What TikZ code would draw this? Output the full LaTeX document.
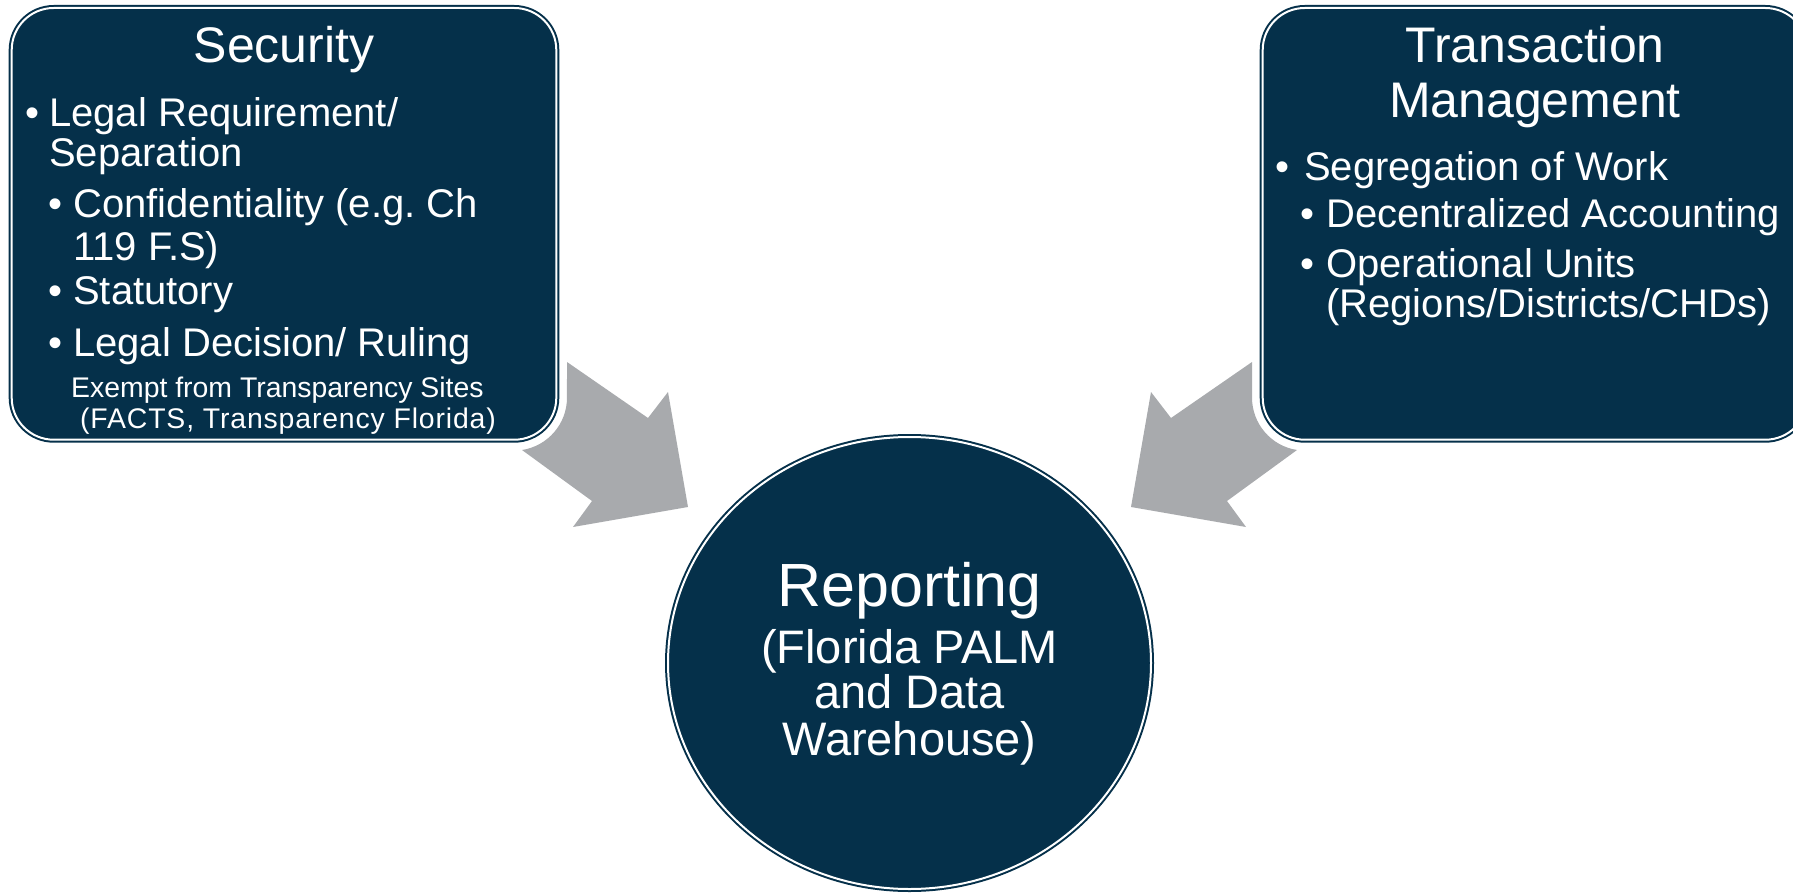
\documentclass[tikz,border=0pt]{standalone}
\usepackage{fontspec}
\setmainfont{Liberation Sans}
\usetikzlibrary{shapes.geometric}
\definecolor{navy}{HTML}{05304A}
\definecolor{arrowgray}{HTML}{A8AAAD}
\frenchspacing
\begin{document}
\begin{tikzpicture}[x=1pt,y=-1pt,
  box/.style={rectangle, rounded corners=42pt, fill=navy, draw=navy, double=white, double distance=2pt, line width=2pt, inner sep=0pt, minimum width=544.6pt, minimum height=431.7pt},
  ring/.style={ellipse, fill=navy, draw=navy, double=white, double distance=2pt, line width=2pt, inner sep=0pt, minimum width=483pt, minimum height=452pt},
  bigarrow/.style={fill=arrowgray},
  head/.style={text=white, inner sep=0pt, anchor=base, font=\fontsize{50}{60}\selectfont},
  item/.style={text=white, inner sep=0pt, anchor=base west, font=\fontsize{40}{48}\selectfont},
  note/.style={text=white, inner sep=0pt, anchor=base west, font=\fontsize{28.4}{34}\selectfont},
  big/.style={text=white, inner sep=0pt, anchor=base, font=\fontsize{61}{72}\selectfont},
  mid/.style={text=white, inner sep=0pt, anchor=base, font=\fontsize{47}{56}\selectfont}]
\useasboundingbox (0,0) rectangle (1793,893);
\clip (0,0) rectangle (1793,893);
% arrows
\fill[bigarrow] (522,450) arc[start angle=81.3, end angle=0, radius=53] -- (567,362) -- (648,418) -- (668,392) -- (688,507) -- (573,527) -- (592,501) -- cycle;
\fill[bigarrow] (1297,450) arc[start angle=98.7, end angle=180, radius=53] -- (1252,362) -- (1171,418) -- (1151,392) -- (1131,507) -- (1246,527) -- (1227,501) -- cycle;
% boxes
\node[box] (secbox) at (284,223.85) {};
\node[box] (trbox) at (1535,223.85) {};
\node[ring] (rep) at (909.5,663) {};
% left box text
\node[head] (sech) at (284,63) {Security};
\node[item] (lb1) at (25,127) {•};
\node[item] (lt1) at (49,127) {Legal Requirement/};
\node[item] (lt1b) at (49,167) {Separation};
\node[item] (lb2) at (48,218) {•};
\node[item] (lt2) at (73,218) {Confidentiality (e.g. Ch};
\node[item] (lt2b) at (73,261) {119 F.S)};
\node[item] (lb3) at (48,305) {•};
\node[item] (lt3) at (73,305) {Statutory};
\node[item] (lb4) at (48,356) {•};
\node[item] (lt4) at (73,356) {Legal Decision/ Ruling};
\node[note] (ln1) at (71,397) {Exempt from Transparency Sites};
\node[note] (ln2) at (80,428) {\addfontfeature{LetterSpace=3}(FACTS, Transparency Florida)};
% right box text
\node[head] (trh1) at (1535,63) {Transaction};
\node[head] (trh2) at (1535,118) {Management};
\node[item] (rb1) at (1275,181) {•};
\node[item] (rt1) at (1304,181) {Segregation of Work};
\node[item] (rb2) at (1300,228) {•};
\node[item] (rt2) at (1326,228) {Decentralized Accounting};
\node[item] (rb3) at (1300,277) {•};
\node[item] (rt3) at (1326,277) {Operational Units};
\node[item] (rt3b) at (1326,317) {(Regions/Districts/CHDs)};
% circle text
\node[big] (c1) at (909.5,606) {Reporting};
\node[mid] (c2) at (909.5,663) {(Florida PALM};
\node[mid] (c3) at (909.5,708) {and Data};
\node[mid] (c4) at (909.5,755) {Warehouse)};
\end{tikzpicture}
\end{document}
